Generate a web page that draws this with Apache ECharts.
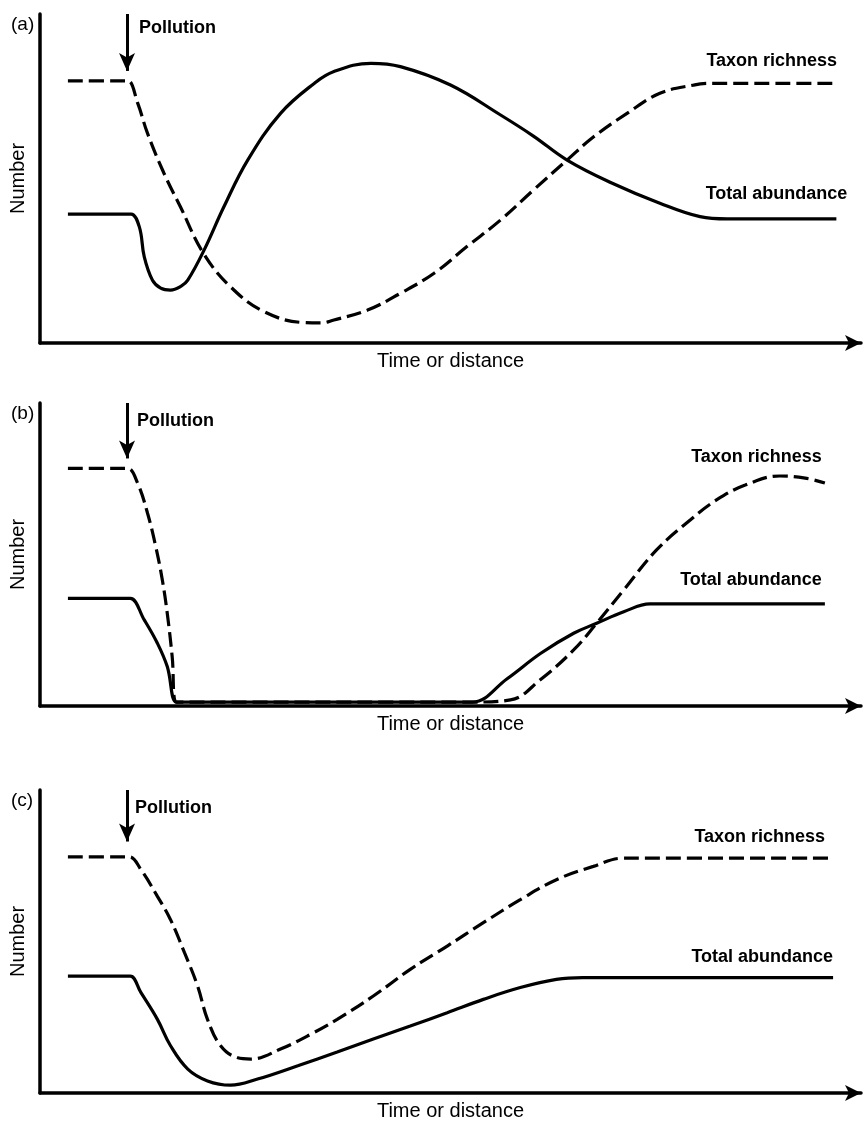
<!DOCTYPE html>
<html>
<head>
<meta charset="utf-8">
<title>Response to pollution</title>
<script src="https://cdn.jsdelivr.net/npm/echarts@6/dist/echarts.min.js"></script>
<style>
  html, body { margin: 0; padding: 0; background: #fff; }
  #main { width: 864px; height: 1122px; }
</style>
</head>
<body>
<div id="main"></div>
<script>
// curves: x = time or distance (0-100), y = number (0-100)
var taxonA = [[3.4,79.7],[9.7,79.7],[10.7,79.7],[11.9,72.9],[13.1,63.7],[15.1,51.6],[17.1,41.4],[19.9,27.3],[23.2,17.1],[27.3,9.5],[32.2,6.2],[34.2,6.1],[35.8,7.0],[39.9,10.0],[43.9,15.1],[48.0,21.2],[52.0,29.3],[56.1,37.4],[60.1,46.5],[64.2,55.6],[67.4,62.6],[71.5,69.8],[75.5,75.9],[79.6,78.4],[81.6,78.9],[96.6,78.9]];
var abundA = [[3.4,39.2],[10.1,39.2],[11.1,39.2],[12.1,35.3],[12.7,26.2],[13.7,19.1],[14.7,16.7],[15.9,16.1],[17.2,17.3],[18.0,19.1],[20.0,28.3],[22.4,41.4],[25.3,55.6],[29.3,69.8],[33.4,78.9],[35.8,82.5],[40.3,85.0],[43.9,84.0],[50.0,78.4],[56.1,69.3],[60.1,62.9],[64.2,55.6],[69.5,48.8],[75.5,42.5],[80.4,38.4],[83.7,37.7],[97.0,37.7]];

var taxonB = [[3.4,78.4],[9.7,78.4],[10.7,78.4],[11.9,73.5],[13.1,63.6],[14.1,52.6],[14.9,41.6],[15.5,30.6],[16.1,16.3],[16.6,1.3],[17.6,1.3],[51.7,1.3],[52.7,1.3],[57.3,2.0],[60.9,8.6],[65.0,18.5],[67.8,27.3],[71.1,38.3],[75.1,51.5],[79.2,61.4],[82.4,68.0],[85.9,72.9],[90.1,75.9],[93.2,75.2],[95.6,73.6]];
var abundB = [[3.4,35.5],[10.0,35.5],[11.0,35.5],[12.7,28.4],[14.3,20.7],[15.5,13.0],[16.6,1.3],[17.6,1.3],[51.7,1.3],[52.7,1.3],[56.9,9.0],[61.0,17.4],[65.0,24.0],[67.8,27.3],[71.1,31.1],[74.3,33.7],[75.3,33.7],[95.6,33.7]];

var taxonC = [[3.4,77.9],[9.9,77.9],[10.9,77.9],[12.3,73.7],[14.3,64.9],[15.9,57.2],[17.6,46.3],[19.2,35.3],[20.4,24.3],[22.0,15.6],[24.0,11.7],[25.7,11.2],[29.3,14.5],[33.4,20.0],[36.2,24.3],[40.6,32.0],[45.1,40.8],[49.6,48.5],[54.0,56.2],[58.5,63.8],[62.9,70.4],[67.4,74.8],[71.0,77.5],[72.0,77.5],[96.6,77.5]];
var abundC = [[3.4,38.6],[10.0,38.6],[11.0,38.6],[12.3,33.1],[14.3,24.3],[15.9,15.6],[18.0,7.9],[20.4,4.0],[23.2,2.6],[26.5,4.6],[31.4,9.0],[36.2,13.5],[40.6,17.8],[45.1,22.1],[49.6,26.5],[54.0,30.9],[58.5,34.8],[62.9,37.5],[66.1,38.1],[67.1,38.1],[96.6,38.1]];

var panelTags = ['(a)', '(b)', '(c)'];
var lineNames = ['Taxon richness', 'Total abundance'];
var pollutionAt = 10.6;
var pollutionTip = [82.7, 81.7, 83.0];

var panels = [
  { top: 14, height: 329, taxon: taxonA, abund: abundA, tOff: [4, -22], aOff: [11, -25], pOff: [12, 14] },
  { top: 403, height: 303, taxon: taxonB, abund: abundB, tOff: [-3, -26], aOff: [-3, -24], pOff: [10, 18] },
  { top: 790, height: 304, taxon: taxonC, abund: abundC, tOff: [-8, -21], aOff: [0, -21], pOff: [8, 18] }
];

var font = 'Liberation Sans';
var axisStyle = { color: '#000', width: 3.5 };

var chart = echarts.init(document.getElementById('main'));

var option = {
  animation: false,
  backgroundColor: '#fff',
  title: [],
  grid: [],
  xAxis: [],
  yAxis: [],
  series: []
};

panels.forEach(function (p, i) {
  option.title.push({
    text: panelTags[i],
    left: 11,
    top: p.top + 1,
    padding: 0,
    textStyle: { fontFamily: font, fontSize: 19, fontWeight: 'normal', color: '#000' }
  });
  option.grid.push({ left: 39, right: 3, top: p.top, height: p.height });
  option.xAxis.push({
    gridIndex: i, type: 'value', min: 0, max: 100,
    name: 'Time or distance', nameLocation: 'middle', nameGap: 8,
    nameTextStyle: { fontFamily: font, fontSize: 20, color: '#000', verticalAlign: 'top' },
    axisLine: { show: true, onZero: false, symbol: ['none', 'arrow'], symbolSize: [12, 16], lineStyle: axisStyle },
    axisTick: { show: false }, axisLabel: { show: false }, splitLine: { show: false }
  });
  option.yAxis.push({
    gridIndex: i, type: 'value', min: 0, max: 100,
    name: 'Number', nameLocation: 'middle', nameGap: 12,
    nameTextStyle: { fontFamily: font, fontSize: 20, color: '#000' },
    axisLine: { show: true, onZero: false, lineStyle: axisStyle },
    axisTick: { show: false }, axisLabel: { show: false }, splitLine: { show: false }
  });

  var tEnd = p.taxon[p.taxon.length - 1];
  var aEnd = p.abund[p.abund.length - 1];
  var labelBase = { show: true, position: 'inside', align: 'right', verticalAlign: 'middle',
    color: '#000', fontFamily: font, fontWeight: 'bold', fontSize: 18 };

  option.series.push({
    name: lineNames[0], type: 'line', xAxisIndex: i, yAxisIndex: i,
    data: p.taxon, smooth: 0.4, showSymbol: false, silent: true,
    lineStyle: { color: '#000', width: 3.2, type: [15, 6] },
    markLine: {
      silent: true, symbol: ['none', 'arrow'], symbolSize: [12, 18],
      lineStyle: { type: 'solid', color: '#000', width: 3 },
      label: { show: false },
      data: [[{ coord: [pollutionAt, 100] }, { coord: [pollutionAt, pollutionTip[i]] }]]
    },
    markPoint: {
      silent: true, symbol: 'circle', symbolSize: 0, label: labelBase,
      data: [
        { coord: tEnd, label: { formatter: lineNames[0], offset: p.tOff } },
        { coord: [pollutionAt, 100], label: { formatter: 'Pollution', align: 'left', offset: p.pOff } }
      ]
    }
  });
  option.series.push({
    name: lineNames[1], type: 'line', xAxisIndex: i, yAxisIndex: i,
    data: p.abund, smooth: 0.4, showSymbol: false, silent: true,
    lineStyle: { color: '#000', width: 3.2 },
    markPoint: {
      silent: true, symbol: 'circle', symbolSize: 0, label: labelBase,
      data: [{ coord: aEnd, label: { formatter: lineNames[1], offset: p.aOff } }]
    }
  });
});

chart.setOption(option);
</script>
</body>
</html>
